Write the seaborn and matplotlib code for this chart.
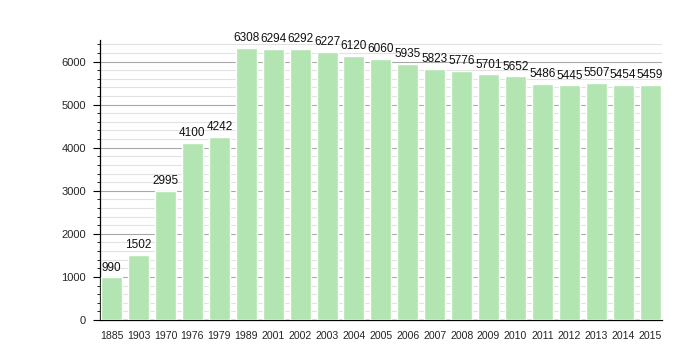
import matplotlib
matplotlib.use("Agg")
import matplotlib.pyplot as plt
import seaborn as sns
import pandas as pd
from matplotlib.ticker import MultipleLocator

years = ["1885", "1903", "1970", "1976", "1979", "1989", "2001", "2002", "2003", "2004", "2005",
         "2006", "2007", "2008", "2009", "2010", "2011", "2012", "2013", "2014", "2015"]
population = [990, 1502, 2995, 4100, 4242, 6308, 6294, 6292, 6227, 6120, 6060,
              5935, 5823, 5776, 5701, 5652, 5486, 5445, 5507, 5454, 5459]

sns.set_theme(style="white")
plt.rcParams['font.family'] = ['Liberation Sans', 'DejaVu Sans']

df = pd.DataFrame({"year": years, "pop": population})

fig = plt.figure(figsize=(7, 3.6), dpi=100)
ax = fig.add_axes([0.143, 0.111, 0.803, 0.778])

sns.barplot(data=df, x="year", y="pop", color="#b2e5b2", saturation=1, width=0.78, ax=ax, zorder=3)

ax.set_ylim(0, 6500)
n = len(years)
ax.set_xlim(-0.43, n - 0.55)
ax.yaxis.set_major_locator(MultipleLocator(1000))
ax.yaxis.set_minor_locator(MultipleLocator(200))
ax.grid(which="major", axis="y", color="#a8a8a8", linewidth=0.8, zorder=0)
ax.grid(which="minor", axis="y", color="#e2e2e2", linewidth=0.8, zorder=0)
ax.set_axisbelow(True)

for s in ["top", "right"]:
    ax.spines[s].set_visible(False)
ax.spines["left"].set_color("black")
ax.spines["bottom"].set_color("black")
ax.spines["left"].set_linewidth(0.9)
ax.spines["bottom"].set_linewidth(0.9)

ax.tick_params(axis="y", which="major", left=True, length=5, width=0.8, color="black", labelsize=8, pad=5)
ax.tick_params(axis="y", which="minor", left=True, length=2.5, width=0.6, color="black")
ax.tick_params(axis="x", bottom=False, labelsize=7.6, pad=2)
ax.set_xlabel("")
ax.set_ylabel("")

for i, v in enumerate(population):
    ax.text(i, v + 90, str(v), ha="center", va="bottom", fontsize=8.5, color="#111111")

fig.savefig("out.png", dpi=100)
